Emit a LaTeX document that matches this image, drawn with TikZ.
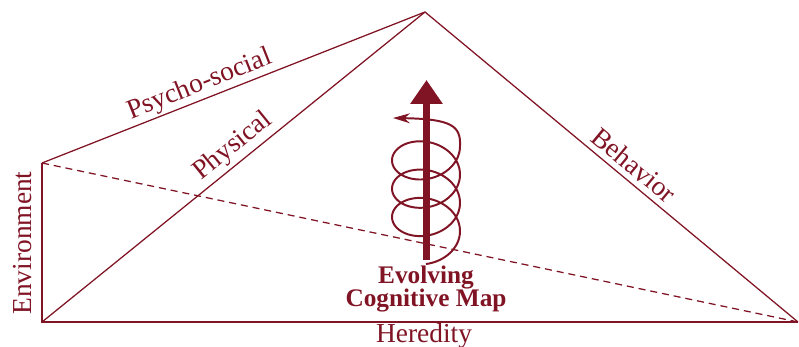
\documentclass[tikz,border=0pt]{standalone}
\usepackage{fontspec}
\setmainfont{Liberation Serif}
\usetikzlibrary{arrows.meta}
\definecolor{mapred}{RGB}{128,20,36}
\begin{document}
\begin{tikzpicture}[x=0.025cm, y=0.025cm,
    edge/.style={draw=mapred, line width=0.9pt},
    lbl/.style={text=mapred, inner sep=0pt, font=\fontsize{19.5}{22}\selectfont}]
    \useasboundingbox (0,0) rectangle (799,347);

    %===== Corners of the pyramid =====%
    \coordinate (apex) at (425,335);
    \coordinate (envtop) at (42,184);
    \coordinate (base) at (42,25);
    \coordinate (far) at (798,25);

    \draw[edge] (envtop) -- (apex) -- (far); % psycho-social / behavior
    \draw[edge] (base) -- (apex);            % physical
    \draw[edge] (envtop) -- (base) -- (far); % environment / heredity

    % Hidden edge, dashed
    \draw[edge, dash pattern=on 5pt off 3.5pt] (envtop) -- (far);

    %===== Edge labels =====%
    \node[lbl, rotate=21.5] (psy) at (200,262) {Psycho-social};
    \node[lbl, rotate=39] (phys) at (233,200.5) {Physical};
    \node[lbl, rotate=-39.7] (behav) at (634,182) {Behavior};
    \node[lbl, rotate=90] (env) at (23,104) {Environment};
    \node[lbl] (hered) at (424,11) {Heredity};

    %===== Spiral with arrow =====%
    \coordinate (turn) at (393,229); % end of the spiral
    \draw[mapred, line width=1.4pt, -{Stealth[length=12pt,width=7pt]}]
      plot[domain=-90:1080, samples=240, smooth, variable=\t]
      ({426+34*cos(\t)}, {115.85+0.07861*\t+25.8*sin(\t)})
      .. controls (461,221) and (452,228) .. (turn);

    \coordinate (stem) at (426.5,87);
    \coordinate (tip) at (426.5,267);
    \draw[mapred, line width=5pt, -{Triangle[length=17pt,width=22pt]}] (stem) -- (tip);

    \node[lbl, align=center, font=\bfseries\fontsize{18}{17}\selectfont]
      (map) at (426,58) {Evolving\\Cognitive Map};
\end{tikzpicture}
\end{document}
